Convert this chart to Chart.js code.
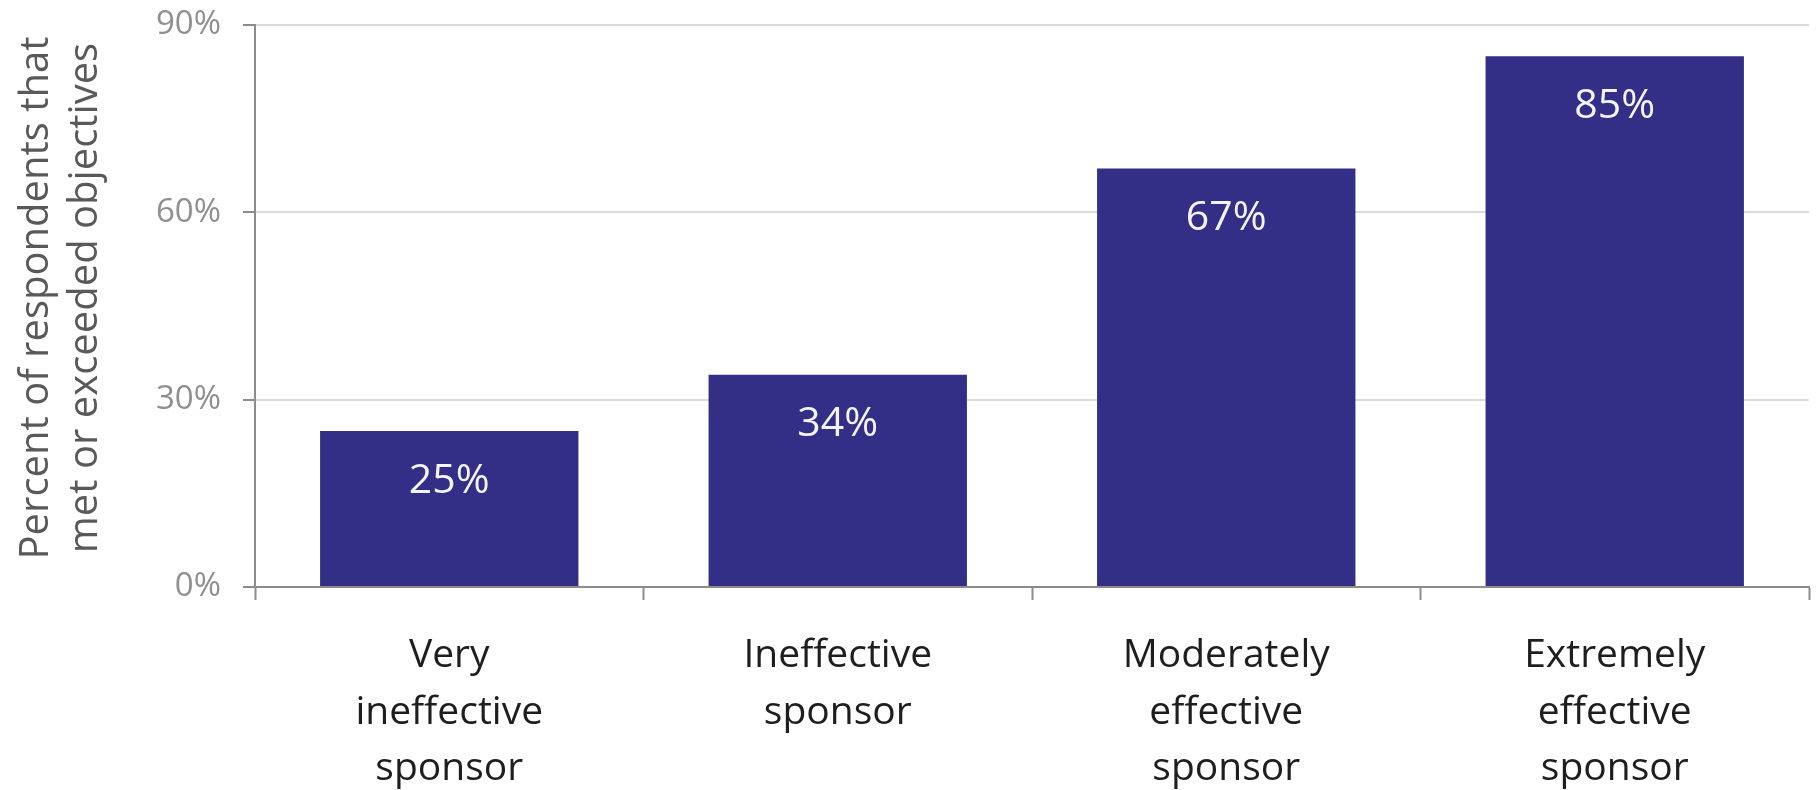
<!DOCTYPE html>
<html>
<head>
<meta charset="utf-8">
<title>Sponsor effectiveness</title>
<script src="https://cdn.jsdelivr.net/npm/chart.js@4/dist/chart.umd.min.js"></script>
<style>
  html, body { margin: 0; padding: 0; background: #ffffff; overflow: hidden; }
  #wrap { width: 1816px; height: 790px; position: relative; }
  canvas { display: block; }
</style>
</head>
<body>
<div id="wrap"><canvas id="chart" width="1816" height="790"></canvas></div>
<script>
// Categories (multi-line x labels)
const categories = [
  ['Very', 'ineffective', 'sponsor'],
  ['Ineffective', 'sponsor'],
  ['Moderately', 'effective', 'sponsor'],
  ['Extremely', 'effective', 'sponsor']
];
// Percent of respondents that met or exceeded objectives
const metOrExceeded = [25, 34, 67, 85];
// Y axis ticks
const yTicks = [0, 30, 60, 90];
const yTitleLines = ['Percent of respondents that', 'met or exceeded objectives'];

const FONT = "'Open Sans', 'Segoe UI', 'DejaVu Sans', sans-serif";
const BAR = '#332e86';
const AXIS = '#8c8c8c';
const GRID = '#dadada';

// White value labels inside the top of each bar
const valueLabels = {
  id: 'valueLabels',
  afterDatasetsDraw(chart) {
    const ctx = chart.ctx;
    const meta = chart.getDatasetMeta(0);
    ctx.save();
    ctx.font = '41px ' + FONT;
    ctx.fillStyle = '#f4f4fa';
    ctx.textAlign = 'center';
    ctx.textBaseline = 'middle';
    meta.data.forEach((bar, i) => {
      ctx.fillText(metOrExceeded[i] + '%', bar.x, bar.y + 50);
    });
    ctx.restore();
  }
};

// Rotated two-line y axis title
const yTitle = {
  id: 'yTitle',
  afterDraw(chart) {
    const ctx = chart.ctx;
    const area = chart.chartArea;
    const cy = (area.top + area.bottom) / 2 - 8;
    const baselines = [48, 97];
    ctx.save();
    ctx.font = '40px ' + FONT;
    ctx.fillStyle = '#595959';
    ctx.textAlign = 'center';
    ctx.textBaseline = 'alphabetic';
    yTitleLines.forEach((line, i) => {
      ctx.save();
      ctx.translate(baselines[i], cy);
      ctx.rotate(-Math.PI / 2);
      ctx.fillText(line, 0, 0);
      ctx.restore();
    });
    ctx.restore();
  }
};

new Chart(document.getElementById('chart'), {
  type: 'bar',
  data: {
    labels: categories,
    datasets: [{
      data: metOrExceeded,
      backgroundColor: BAR,
      borderWidth: 0,
      categoryPercentage: 1,
      barPercentage: 0.665
    }]
  },
  options: {
    responsive: false,
    animation: false,
    maintainAspectRatio: false,
    devicePixelRatio: 1,
    layout: { padding: { top: 25, right: 7, left: 0, bottom: 0 } },
    plugins: {
      legend: { display: false },
      tooltip: { enabled: false },
      title: { display: false }
    },
    scales: {
      x: {
        grid: {
          offset: true,
          drawOnChartArea: false,
          drawTicks: true,
          tickLength: 13,
          tickColor: AXIS,
          tickWidth: 2,
          color: AXIS
        },
        border: { display: true, color: AXIS, width: 2 },
        ticks: {
          color: '#1e1e1e',
          font: { family: FONT, size: 39, lineHeight: 1.45 },
          padding: 28,
          maxRotation: 0,
          autoSkip: false
        },
        afterFit(scale) { scale.height = 203; }
      },
      y: {
        min: 0,
        max: 90,
        afterBuildTicks(scale) { scale.ticks = yTicks.map(v => ({ value: v })); },
        grid: {
          color: GRID,
          lineWidth: 2,
          drawTicks: true,
          tickLength: 12,
          tickColor: AXIS,
          tickWidth: 2
        },
        border: { display: true, color: AXIS, width: 2 },
        ticks: {
          color: '#8f8f8f',
          font: { family: FONT, size: 33 },
          padding: 22,
          callback: v => v + '%'
        },
        afterFit(scale) {
          scale.width = 255;
          scale.paddingTop = 0;
          scale.paddingBottom = 0;
        }
      }
    }
  },
  plugins: [valueLabels, yTitle]
});
</script>
</body>
</html>
